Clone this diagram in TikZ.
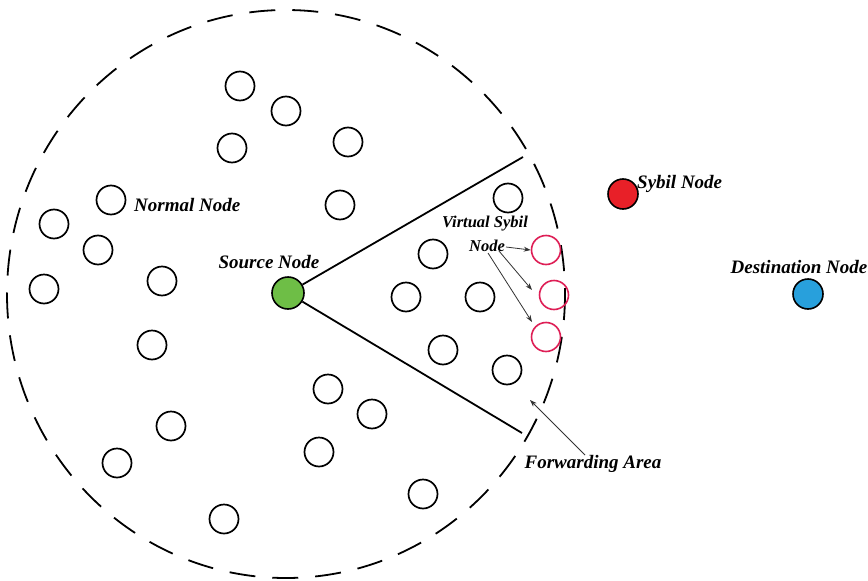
\documentclass[tikz,border=0pt]{standalone}
\usepackage{fontspec}
\setmainfont{Liberation Serif}
\usetikzlibrary{arrows.meta}
\definecolor{srcgreen}{RGB}{110,190,70}
\definecolor{sybred}{RGB}{232,32,40}
\definecolor{dstblue}{RGB}{40,160,220}
\definecolor{virtpink}{RGB}{222,30,85}
\tikzset{
  nnode/.style={circle,draw=black,line width=1.7pt,minimum size=29pt,inner sep=0pt},
  vnode/.style={circle,draw=virtpink,line width=1.6pt,minimum size=29pt,inner sep=0pt},
  lbl/.style={font=\fontsize{19}{21}\selectfont\bfseries\itshape,inner sep=0pt},
  slbl/.style={font=\fontsize{16.5}{18}\selectfont\bfseries\itshape,inner sep=0pt},
  ptr/.style={draw=black!80,line width=0.8pt,-{Stealth[length=7pt,width=5pt]}},
  edge/.style={line width=1.8pt,black}
}
\begin{document}
\begin{tikzpicture}[x=1pt,y=-1pt]
\useasboundingbox (0,0) rectangle (868,581);
\fill[white] (0,0) rectangle (868,581);
% range
\draw[line width=1.8pt,dash pattern=on 26pt off 17pt] (286,294) ellipse [x radius=279,y radius=284];
% normal nodes
\node[nnode] (n1) at (240,86) {};
\node[nnode] (n2) at (286,111) {};
\node[nnode] (n3) at (232,148) {};
\node[nnode] (n4) at (348,142) {};
\node[nnode] (n5) at (111,200) {};
\node[nnode] (n6) at (54,224) {};
\node[nnode] (n7) at (98,250) {};
\node[nnode] (n8) at (44,289) {};
\node[nnode] (n9) at (162,281) {};
\node[nnode] (n10) at (340,205) {};
\node[nnode] (n11) at (152,345) {};
\node[nnode] (n12) at (171,426) {};
\node[nnode] (n13) at (117,463) {};
\node[nnode] (n14) at (328,389) {};
\node[nnode] (n15) at (372,414) {};
\node[nnode] (n16) at (319,452) {};
\node[nnode] (n17) at (224,519) {};
\node[nnode] (n18) at (423,494) {};
% forwarding area nodes
\node[nnode] (f1) at (508,198) {};
\node[nnode] (f2) at (433,254) {};
\node[nnode] (f3) at (406,297) {};
\node[nnode] (f4) at (480,297) {};
\node[nnode] (f5) at (443,350) {};
\node[nnode] (f6) at (507,370) {};
% virtual sybil nodes
\node[vnode] (v1) at (546,250) {};
\node[vnode] (v2) at (554,295) {};
\node[vnode] (v3) at (546,337) {};
% source
\coordinate (up) at (523,157);
\coordinate (lo) at (522,433);
\node[circle,fill=srcgreen,draw=black,line width=1.6pt,minimum size=32pt,inner sep=0pt] (src) at (288,293) {};
\draw[edge] (src) -- (up);
\draw[edge] (src) -- (lo);
% sybil and destination
\node[circle,fill=sybred,draw=black,line width=1.6pt,minimum size=30pt,inner sep=0pt] (syb) at (623,194) {};
\node[circle,fill=dstblue,draw=black,line width=1.6pt,minimum size=30pt,inner sep=0pt] (dst) at (808,294) {};
% labels
\node[lbl,anchor=west] (lnormal) at (134,205) {Normal Node};
\node[lbl] (lsource) at (269,262) {Source Node};
\node[lbl,anchor=west] (lsybil) at (637,184) {Sybil Node};
\node[lbl] (ldest) at (799,267) {Destination Node};
\node[slbl] (lvirt) at (485,224) {Virtual Sybil};
\node[slbl] (lvnode) at (487,246) {Node};
\node[lbl] (lfwd) at (593,464) {Forwarding Area};
% pointers
\coordinate (p1) at (506,247);
\coordinate (p2) at (499,251);
\coordinate (p3) at (488,253);
\draw[ptr] (p1) -- (v1.west);
\draw[ptr] (p2) -- (532,290);
\draw[ptr] (p3) -- (532,322);
\coordinate (fa) at (585,455);
\coordinate (ft) at (530,400);
\draw[ptr] (fa) -- (ft);
\end{tikzpicture}
\end{document}
